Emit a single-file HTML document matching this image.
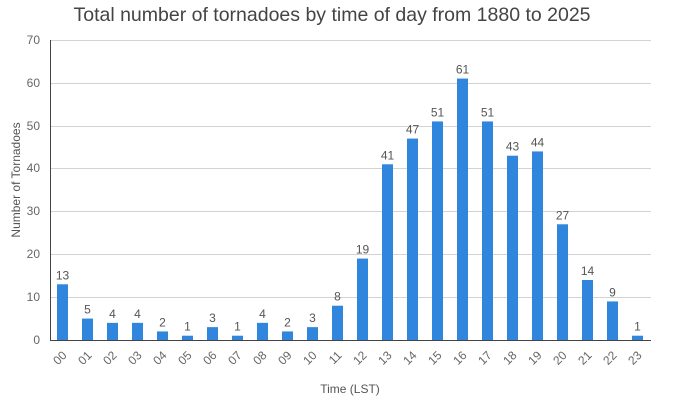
<!DOCTYPE html>
<html><head><meta charset="utf-8"><style>body{margin:0;background:#fff}svg{display:block}</style></head><body>
<svg width="700" height="400" xmlns="http://www.w3.org/2000/svg" font-family="Liberation Sans, DejaVu Sans, sans-serif">
<text x="332" y="21" text-anchor="middle" font-size="19.5" fill="#444">Total number of tornadoes by time of day from 1880 to 2025</text>
<g stroke="#d3d3d3" stroke-width="1">
<line x1="50" x2="651" y1="40.5" y2="40.5"/><line x1="50" x2="651" y1="83.5" y2="83.5"/><line x1="50" x2="651" y1="126.5" y2="126.5"/><line x1="50" x2="651" y1="168.5" y2="168.5"/><line x1="50" x2="651" y1="211.5" y2="211.5"/><line x1="50" x2="651" y1="254.5" y2="254.5"/><line x1="50" x2="651" y1="297.5" y2="297.5"/>
</g>
<g font-size="12" fill="#666" text-anchor="end">
<text x="40" y="44">70</text><text x="40" y="87">60</text><text x="40" y="130">50</text><text x="40" y="172">40</text><text x="40" y="215">30</text><text x="40" y="258">20</text><text x="40" y="301">10</text><text x="40" y="344">0</text>
</g>
<text transform="translate(20,180) rotate(-90)" text-anchor="middle" font-size="12" fill="#555">Number of Tornadoes</text>
<text x="350" y="393" text-anchor="middle" font-size="12" fill="#555">Time (LST)</text>
<g fill="#2f86dc">
<rect x="57" y="284.29" width="11" height="55.71"/>
<rect x="82" y="318.57" width="11" height="21.43"/>
<rect x="107" y="322.86" width="11" height="17.14"/>
<rect x="132" y="322.86" width="11" height="17.14"/>
<rect x="157" y="331.43" width="11" height="8.57"/>
<rect x="182" y="335.71" width="11" height="4.29"/>
<rect x="207" y="327.14" width="11" height="12.86"/>
<rect x="232" y="335.71" width="11" height="4.29"/>
<rect x="257" y="322.86" width="11" height="17.14"/>
<rect x="282" y="331.43" width="11" height="8.57"/>
<rect x="307" y="327.14" width="11" height="12.86"/>
<rect x="332" y="305.71" width="11" height="34.29"/>
<rect x="357" y="258.57" width="11" height="81.43"/>
<rect x="382" y="164.29" width="11" height="175.71"/>
<rect x="407" y="138.57" width="11" height="201.43"/>
<rect x="432" y="121.43" width="11" height="218.57"/>
<rect x="457" y="78.57" width="11" height="261.43"/>
<rect x="482" y="121.43" width="11" height="218.57"/>
<rect x="507" y="155.71" width="11" height="184.29"/>
<rect x="532" y="151.43" width="11" height="188.57"/>
<rect x="557" y="224.29" width="11" height="115.71"/>
<rect x="582" y="280" width="11" height="60"/>
<rect x="607" y="301.43" width="11" height="38.57"/>
<rect x="632" y="335.71" width="11" height="4.29"/>
</g>
<g font-size="12" fill="#555" text-anchor="middle">
<text x="62.5" y="279.3">13</text>
<text x="87.5" y="313.6">5</text>
<text x="112.5" y="317.9">4</text>
<text x="137.5" y="317.9">4</text>
<text x="162.5" y="326.4">2</text>
<text x="187.5" y="330.7">1</text>
<text x="212.5" y="322.1">3</text>
<text x="237.5" y="330.7">1</text>
<text x="262.5" y="317.9">4</text>
<text x="287.5" y="326.4">2</text>
<text x="312.5" y="322.1">3</text>
<text x="337.5" y="300.7">8</text>
<text x="362.5" y="253.6">19</text>
<text x="387.5" y="159.3">41</text>
<text x="412.5" y="133.6">47</text>
<text x="437.5" y="116.4">51</text>
<text x="462.5" y="73.6">61</text>
<text x="487.5" y="116.4">51</text>
<text x="512.5" y="150.7">43</text>
<text x="537.5" y="146.4">44</text>
<text x="562.5" y="219.3">27</text>
<text x="587.5" y="275">14</text>
<text x="612.5" y="296.4">9</text>
<text x="637.5" y="330.7">1</text>
</g>
<g font-size="12" fill="#666" text-anchor="end">
<text transform="translate(67.5,356) rotate(-45)">00</text>
<text transform="translate(92.5,356) rotate(-45)">01</text>
<text transform="translate(117.5,356) rotate(-45)">02</text>
<text transform="translate(142.5,356) rotate(-45)">03</text>
<text transform="translate(167.5,356) rotate(-45)">04</text>
<text transform="translate(192.5,356) rotate(-45)">05</text>
<text transform="translate(217.5,356) rotate(-45)">06</text>
<text transform="translate(242.5,356) rotate(-45)">07</text>
<text transform="translate(267.5,356) rotate(-45)">08</text>
<text transform="translate(292.5,356) rotate(-45)">09</text>
<text transform="translate(317.5,356) rotate(-45)">10</text>
<text transform="translate(342.5,356) rotate(-45)">11</text>
<text transform="translate(367.5,356) rotate(-45)">12</text>
<text transform="translate(392.5,356) rotate(-45)">13</text>
<text transform="translate(417.5,356) rotate(-45)">14</text>
<text transform="translate(442.5,356) rotate(-45)">15</text>
<text transform="translate(467.5,356) rotate(-45)">16</text>
<text transform="translate(492.5,356) rotate(-45)">17</text>
<text transform="translate(517.5,356) rotate(-45)">18</text>
<text transform="translate(542.5,356) rotate(-45)">19</text>
<text transform="translate(567.5,356) rotate(-45)">20</text>
<text transform="translate(592.5,356) rotate(-45)">21</text>
<text transform="translate(617.5,356) rotate(-45)">22</text>
<text transform="translate(642.5,356) rotate(-45)">23</text>
</g>
<line x1="50.5" x2="50.5" y1="40" y2="341" stroke="#444"/>
<line x1="50" x2="651" y1="340.5" y2="340.5" stroke="#444"/>
</svg>
</body></html>
